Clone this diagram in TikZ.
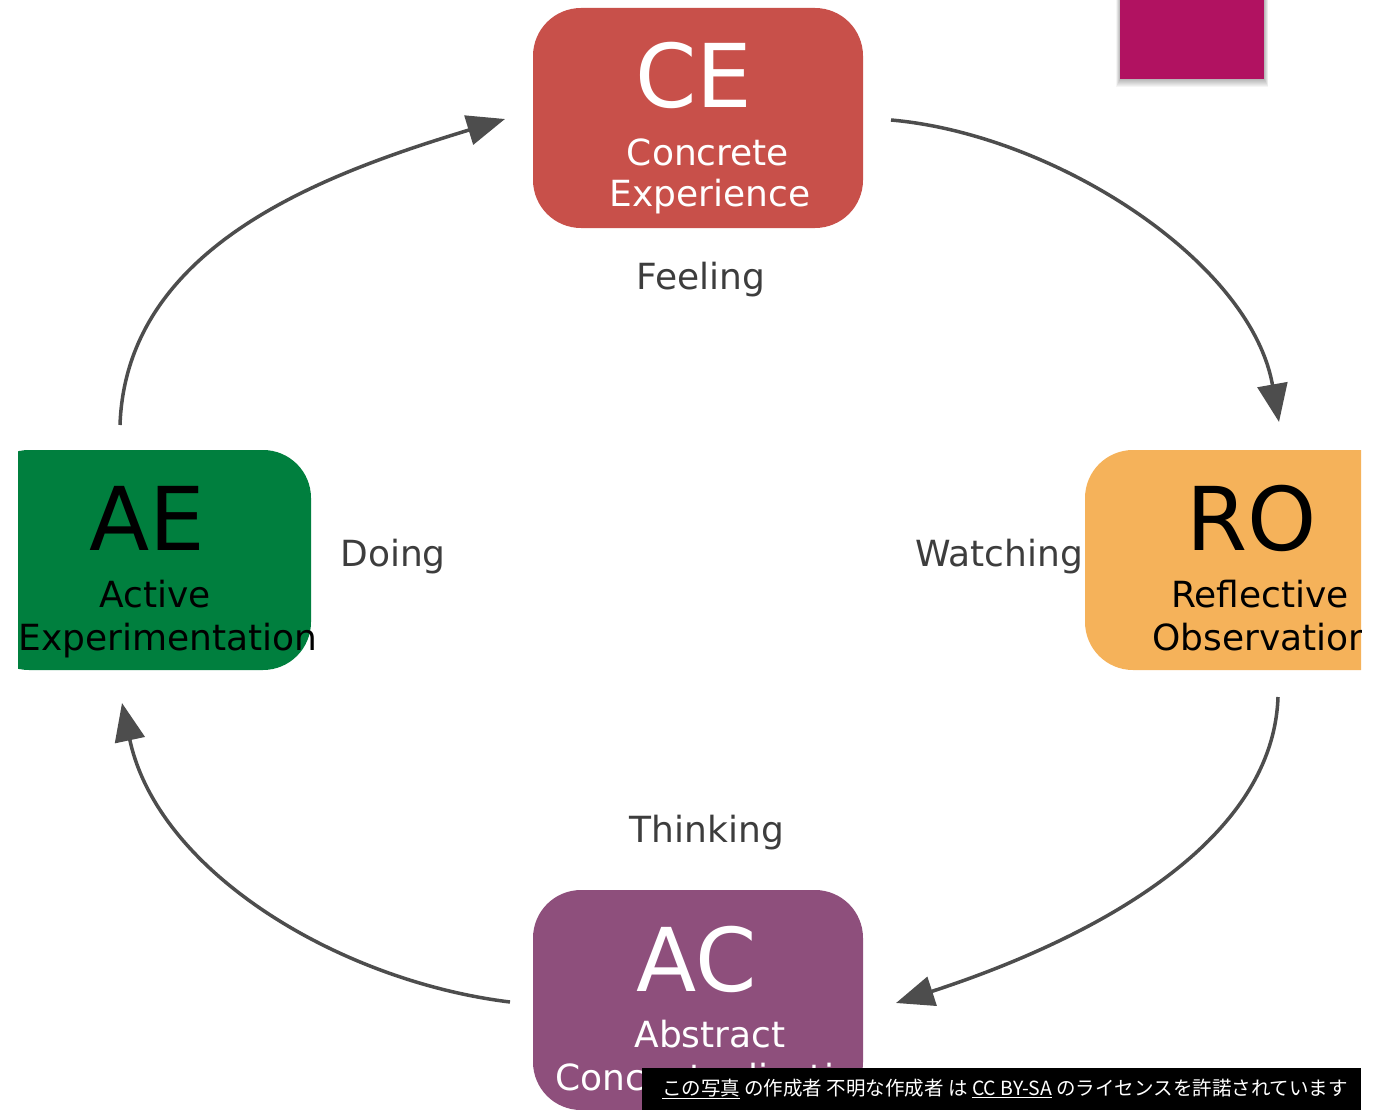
\documentclass[tikz,border=0pt]{standalone}
\usepackage{fontspec}
\setmainfont{DejaVu Sans}
\newfontfamily\jpfont{Noto Sans CJK JP}
\usetikzlibrary{arrows.meta}

\definecolor{cered}{HTML}{C8504A}
\definecolor{aegreen}{HTML}{007F3E}
\definecolor{roorange}{HTML}{F5B25A}
\definecolor{acpurple}{HTML}{8E4F7C}
\definecolor{slidemagenta}{HTML}{B11261}
\definecolor{arrowgray}{HTML}{4D4D4D}
\definecolor{labelgray}{HTML}{3D3D3D}

\begin{document}
\begin{tikzpicture}[x=1pt,y=-1pt]
\tikzstyle{stage} = [rounded corners=48pt, minimum width=330pt, minimum height=220pt, inner sep=0pt]
\tikzstyle{big} = [anchor=base, inner sep=0pt, font=\fontsize{88}{88}\selectfont]
\tikzstyle{small} = [anchor=base, inner sep=0pt, font=\fontsize{36}{36}\selectfont]
\tikzstyle{mode} = [small, text=labelgray]
\tikzstyle{flow} = [draw=arrowgray, line width=3.5pt, -{Triangle[length=38pt,width=30pt]}]

\useasboundingbox (0,0) rectangle (1383,1110);

\begin{scope}
\clip (18,0) rectangle (1361,1110);

\node[stage, fill=cered] (CE) at (698,118) {};
\node[stage, fill=aegreen] (AE) at (146,560) {};
\node[stage, fill=roorange] (RO) at (1250,560) {};
\node[stage, fill=acpurple] (AC) at (698,1000) {};

\node[big, text=white] (CE-title) at (694,108) {CE};
\node[small, text=white] (CE-line1) at (708,166) {Concrete};
\node[small, text=white] (CE-line2) at (710,207) {Experience};

\node[big] (AE-title) at (147,550) {AE};
\node[small] (AE-line1) at (155,607) {Active};
\node[small] (AE-line2) at (168,650) {Experimentation};

\node[big] (RO-title) at (1252,550) {RO};
\node[small] (RO-line1) at (1260,607) {Reflective};
\node[small] (RO-line2) at (1262,650) {Observation};

\node[big, text=white] (AC-title) at (697,991) {AC};
\node[small, text=white] (AC-line1) at (710,1047) {Abstract};
\node[small, text=white] (AC-line2) at (717,1090) {Conceptualization};

\node[mode] (feeling) at (701,289) {Feeling};
\node[mode] (doing) at (393,566) {Doing};
\node[mode] (watching) at (999,566) {Watching};
\node[mode] (thinking) at (707,842) {Thinking};

\coordinate (AE-out) at (120,425);
\coordinate (CE-in) at (505,119);
\coordinate (CE-out) at (891,120);
\coordinate (RO-in) at (1279,422);
\coordinate (RO-out) at (1278,697);
\coordinate (AC-in) at (896,1003);
\coordinate (AC-out) at (510,1002);
\coordinate (AE-in) at (122,703);

\draw[flow] (AE-out) to[out=88, in=197, looseness=0.95] (CE-in);
\draw[flow] (CE-out) to[out=-5, in=100, looseness=0.85] (RO-in);
\draw[flow] (RO-out) to[out=-92, in=18, looseness=0.85] (AC-in);
\draw[flow] (AC-out) to[out=173, in=-78, looseness=0.9] (AE-in);
\end{scope}

\foreach \s in {1,...,8}
  \fill[black, opacity=0.04] (1120-0.5*\s,0) rectangle (1264+0.5*\s,79+\s);
\fill[slidemagenta] (1120,0) rectangle (1264,79) node (slide) {};

\fill[black] (642,1068) rectangle (1361,1110);
\node[text=white, inner sep=0pt, font=\jpfont\fontsize{19.5}{19.5}\selectfont] (credit) at (1005,1089)
  {\underline{この写真} の作成者 不明な作成者 は \underline{CC BY-SA} のライセンスを許諾されています};
\end{tikzpicture}
\end{document}
